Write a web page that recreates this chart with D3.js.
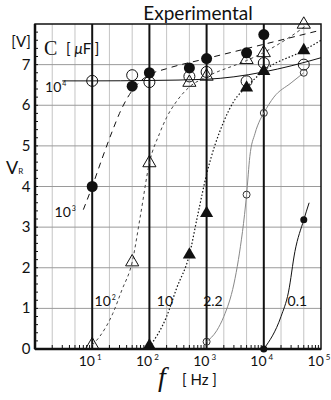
<!DOCTYPE html>
<html><head><meta charset="utf-8">
<script src="https://cdn.jsdelivr.net/npm/d3@7"></script>
<style>body{margin:0;background:#fff}svg{display:block}</style>
</head><body><svg id="c" width="331" height="400"></svg>
<script>
// ---- data ----
const freqs = [10, 50, 100, 500, 1000, 5000, 10000, 50000];
const vC1e4 = [6.6, 6.74, 6.57, 6.71, 6.82, 6.59, 7.04, 7.0];
const vC1e3 = [4.0, 6.47, 6.8, 6.92, 7.15, 7.29, 7.74, null];
const vC1e2 = [0.1, 2.14, 4.58, 6.56, 6.71, 7.12, 7.29, 7.99];
const vC10  = [null, null, 0.08, 2.32, 3.34, 6.43, 6.84, 7.35];
const vC2_2 = [null, null, null, null, 0.18, 3.8, 5.81, 6.8];
const vC0_1 = [null, null, null, null, null, null, 0.0, 3.18];

const curveC1e4 = [[3,6.6],[10,6.6],[100,6.61],[1000,6.64],[3000,6.7],[10000,6.82],[30000,6.97],[100000,7.17]];
const curveC1e3 = [[7,3.43],[10,4.0],[15,4.7],[23,5.4],[30,5.8],[42,6.2],[60,6.5],[100,6.75],[200,6.9],[1000,7.15],[10000,7.5],[100000,7.85]];
const curveC1e2 = [[10,0.1],[13.4,0.3],[23,0.88],[33,1.45],[50,2.14],[70,3.3],[100,4.58],[150,5.3],[200,5.7],[300,6.1],[500,6.45],[1000,6.7],[5000,7.1],[10000,7.3],[30000,7.7],[60000,8.0]];
const curveC10  = [[100,0.05],[200,0.8],[300,1.5],[500,2.32],[700,3.3],[1000,4.3],[2000,5.6],[3000,6.1],[5000,6.45],[10000,6.85],[50000,7.35],[100000,7.6]];
const curveC2_2 = [[1000,0.18],[1500,0.45],[2000,0.8],[3000,1.6],[3600,2.2],[5000,3.8],[5700,4.74],[7000,5.3],[8600,5.64],[10000,5.81],[15000,6.2],[30000,6.55],[50000,6.8]];
const curveC0_1 = [[10000,0],[20000,0.8],[27000,1.4],[35000,2.4],[50000,3.18],[62000,3.6]];

const xMajor = [10, 100, 1000, 10000, 100000];
const xExp = ["1", "2", "3", "4", "5"];
const yTicks = [0, 1, 2, 3, 4, 5, 6, 7];
const curveLabels = [["10","4",1.5,6.33],["10","3",2.2,3.25],["10","2",11,1.05],["10","",135,1.05],["2.2","",870,1.05],["0.1","",26000,1.05]];

// ---- layout ----
const svg = d3.select("#c");
const x = d3.scaleLog().domain([1, 1e5]).range([35, 321]);
const y = d3.scaleLinear().domain([0, 8]).range([349, 24]);
const font = "Lato, 'Open Sans', sans-serif";

// grid: minor verticals at 2 and 5
const g = svg.append("g");
const minorV = [];
for (let d = 1; d < 1e5; d *= 10) { minorV.push(2*d, 5*d); }
g.selectAll("line.mv").data(minorV).join("line")
  .attr("x1", d => x(d)).attr("x2", d => x(d)).attr("y1", y(0)).attr("y2", y(8))
  .attr("stroke", "#c4c4c4").attr("stroke-width", 1);
g.selectAll("line.h").data(d3.range(1, 8)).join("line")
  .attr("x1", x(1)).attr("x2", x(1e5)).attr("y1", d => y(d)).attr("y2", d => y(d))
  .attr("stroke", "#9a9a9a").attr("stroke-width", 1);
g.selectAll("line.bv").data(xMajor.slice(0, 4)).join("line")
  .attr("x1", d => x(d)).attr("x2", d => x(d)).attr("y1", y(0)).attr("y2", y(8))
  .attr("stroke", "#111").attr("stroke-width", 2);

// minor ticks on bottom axis
const minorT = [];
for (let d = 1; d < 1e5; d *= 10) for (let k = 2; k <= 9; k++) minorT.push(k*d);
g.selectAll("line.mt").data(minorT).join("line")
  .attr("x1", d => x(d)).attr("x2", d => x(d)).attr("y1", y(0)).attr("y2", y(0) - 4)
  .attr("stroke", "#111").attr("stroke-width", 1);
// minor ticks on left axis
g.selectAll("line.lt").data(d3.range(0, 40).map(i => i * 0.2)).join("line")
  .attr("x1", x(1)).attr("x2", x(1) + 3).attr("y1", d => y(d)).attr("y2", d => y(d))
  .attr("stroke", "#111").attr("stroke-width", 1);

// curves
const line = d3.line().x(d => x(d[0])).y(d => y(d[1])).curve(d3.curveMonotoneX);
const curves = [
  [curveC1e4, "#111", null, 1],
  [curveC1e3, "#111", "6,5", 1],
  [curveC1e2, "#444", "3,3", 1],
  [curveC10, "#111", "1.5,2", 1.2],
  [curveC2_2, "#888", null, 1],
  [curveC0_1, "#111", null, 1]
];
const plot = svg.append("g");
curves.forEach(([d, c, da, w]) => {
  plot.append("path").attr("d", line(d)).attr("fill", "none").attr("stroke", c)
    .attr("stroke-width", w).attr("stroke-dasharray", da);
});

// markers
function pts(vals) { return freqs.map((f, i) => [f, vals[i]]).filter(p => p[1] !== null); }
const tri = d3.symbol().type(d3.symbolTriangle).size(75);
plot.selectAll("path.ot").data(pts(vC1e2)).join("path").attr("d", tri)
  .attr("transform", d => `translate(${x(d[0])},${y(d[1])})`).attr("fill", "none").attr("stroke", "#111").attr("stroke-width", 1);
plot.selectAll("path.ft").data(pts(vC10)).join("path").attr("d", tri)
  .attr("transform", d => `translate(${x(d[0])},${y(d[1])})`).attr("fill", "#111");
plot.selectAll("circle.oc").data(pts(vC1e4)).join("circle")
  .attr("cx", d => x(d[0])).attr("cy", d => y(d[1])).attr("r", 5.5).attr("fill", "none").attr("stroke", "#111").attr("stroke-width", 1);
plot.selectAll("circle.fc").data(pts(vC1e3)).join("circle")
  .attr("cx", d => x(d[0])).attr("cy", d => y(d[1])).attr("r", 5.5).attr("fill", "#111");
plot.selectAll("circle.sc").data(pts(vC2_2)).join("circle")
  .attr("cx", d => x(d[0])).attr("cy", d => y(d[1])).attr("r", 3.5).attr("fill", "none").attr("stroke", "#333").attr("stroke-width", 1);
plot.selectAll("circle.sf").data(pts(vC0_1)).join("circle")
  .attr("cx", d => x(d[0])).attr("cy", d => y(d[1])).attr("r", 3.5).attr("fill", "#111");

// frame
svg.append("rect").attr("x", x(1)).attr("y", y(8)).attr("width", x(1e5) - x(1)).attr("height", y(0) - y(8))
  .attr("fill", "none").attr("stroke", "#111").attr("stroke-width", 1.5);
svg.append("line").attr("x1", x(1)).attr("x2", x(1)).attr("y1", y(8)).attr("y2", y(0)).attr("stroke", "#111").attr("stroke-width", 2.5);
svg.append("line").attr("x1", x(1)).attr("x2", x(1e5)).attr("y1", y(0)).attr("y2", y(0)).attr("stroke", "#111").attr("stroke-width", 2.5);

// y tick labels
svg.selectAll("text.yt").data(yTicks).join("text")
  .attr("x", 26).attr("y", d => y(d) + 5).attr("text-anchor", "middle")
  .attr("font-family", font).attr("font-size", 15).attr("fill", "#111").text(d => d);
svg.append("text").attr("x", 21).attr("y", 47).attr("text-anchor", "middle")
  .attr("font-family", font).attr("font-size", 15).attr("fill", "#111").text("[V]");

// x tick labels
const xt = svg.selectAll("text.xt").data(xMajor).join("text")
  .attr("x", d => x(d) - 2).attr("y", 366).attr("text-anchor", "middle")
  .attr("font-family", font).attr("font-size", 14).attr("fill", "#111");
xt.append("tspan").text("10");
xt.append("tspan").attr("dy", -6).attr("dx", 2).attr("font-size", 8).text((d, i) => xExp[i]);

// axis titles
const vr = svg.append("text").attr("x", 6).attr("y", 174).attr("font-family", font).attr("font-size", 18).attr("fill", "#111");
vr.append("tspan").text("V");
vr.append("tspan").attr("font-size", 8).text("R");
svg.append("text").attr("x", 158).attr("y", 386).attr("font-family", "'Liberation Serif', serif").attr("font-style", "italic")
  .attr("font-size", 28).attr("fill", "#111").text("f");
svg.append("text").attr("x", 182).attr("y", 385).attr("font-family", font).attr("font-size", 15).attr("fill", "#111").text("[ Hz ]");

// legend title C [μF]
svg.append("text").attr("x", 44).attr("y", 55).attr("font-family", "'Liberation Serif', serif")
  .attr("font-size", 20).attr("fill", "#111").text("C");
const cu = svg.append("text").attr("x", 66).attr("y", 54).attr("font-family", font).attr("font-size", 15).attr("fill", "#111");
cu.append("tspan").text("[ ");
cu.append("tspan").attr("font-style", "italic").text("μ");
cu.append("tspan").text("F ]");

// title
svg.append("text").attr("x", 198).attr("y", 20).attr("text-anchor", "middle").attr("font-family", font)
  .attr("font-size", 19).attr("fill", "#111").text("Experimental");

// curve labels
const cl = svg.selectAll("text.cl").data(curveLabels).join("text")
  .attr("x", d => x(d[2])).attr("y", d => y(d[3])).attr("font-family", font).attr("font-size", 14).attr("fill", "#111");
cl.append("tspan").text(d => d[0]);
cl.append("tspan").attr("dy", -6).attr("dx", 1).attr("font-size", 7).text(d => d[1]);
</script></body></html>
